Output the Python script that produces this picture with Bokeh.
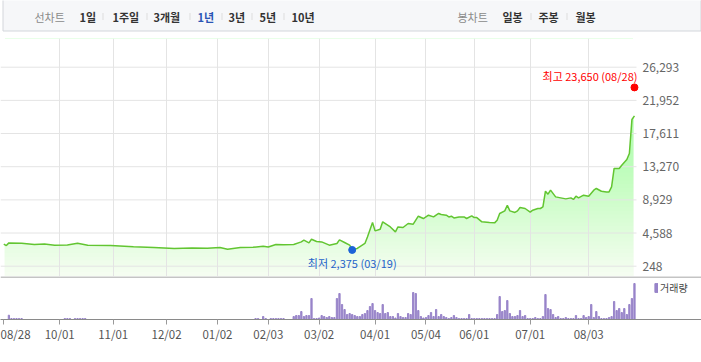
import numpy as np
from bokeh.plotting import figure
from bokeh.models import Range1d, FixedTicker, Span, Legend, LegendItem
from bokeh.layouts import column
from bokeh.embed import file_html
from bokeh.resources import INLINE
from bokeh.core.properties import value

FONT = "Noto Sans CJK KR"

# ---------------- data (trading-day index) ----------------
price_idx = [0, 1, 2, 7, 12, 16, 20, 25, 29, 33, 42, 51, 59, 67, 74, 80, 85, 88, 93, 98,
             102, 104, 107, 110, 114, 117, 118, 120, 121, 123, 125, 128, 131, 132, 134, 136,
             137, 139, 142, 143, 145, 146, 148, 149, 152, 154, 155, 157, 159, 161, 163, 165,
             167, 169, 171, 172, 174, 175, 176, 177, 179, 181, 182, 184, 185, 186, 188, 191,
             193, 194, 195, 197, 198, 199, 201, 202, 203, 205, 207, 208, 210, 211, 212, 213,
             214, 215, 217, 219, 221, 223, 224, 225, 226, 228, 230, 232, 233, 235, 237, 238,
             239, 240, 242, 243, 245, 246, 247, 248]
price_val = [3150, 2950, 3300, 3250, 3080, 3150, 3000, 3020, 3250, 3000, 2950, 2800, 2680, 2560,
             2620, 2600, 2700, 2480, 2680, 2720, 2870, 2750, 3090, 3040, 3090, 3430, 3650, 3300,
             3780, 3480, 3430, 3000, 3220, 3690, 3350, 3000, 2450, 2570, 3220, 4080, 5970, 4870,
             5090, 6050, 5390, 4740, 5390, 5310, 5840, 5750, 6790, 6490, 6920, 6700, 7150, 7010,
             6920, 6700, 6790, 6570, 6700, 6700, 6490, 6830, 6610, 6610, 6050, 5970, 5920, 6270,
             7150, 7490, 8230, 7490, 7280, 7490, 7930, 7800, 7320, 7580, 7800, 7800, 8010, 10060,
             9670, 10200, 9320, 9190, 9060, 9190, 8980, 9410, 9190, 9540, 9410, 10200, 10420,
             10060, 9970, 9970, 10630, 13040, 13040, 13470, 14210, 15000, 19450, 19920]

vol_idx = [2, 3, 4, 5, 6, 7, 24, 25, 26, 28, 29, 30, 31, 32,
           99, 100, 102, 103, 105, 106, 107, 108, 109, 110] + list(range(114, 249))
vol_val = [4.3, 1, 1, 1, 1, 1, 1, 1, 1, 1, 1, 1, 1, 1,
           1, 1, 3, 1, 1, 1, 1, 1, 1, 1,
           3, 4, 4, 8, 3, 4, 4, 21, 1, 1, 1.5, 4, 3, 2, 3, 2, 2, 21, 26, 15, 10, 5, 6, 5, 4, 3,
           3, 5, 6, 9, 13, 16, 9, 7, 6, 15, 6, 7, 3, 3, 1.5, 6, 3, 2, 2, 6, 5, 27, 26, 9, 3,
           1.5, 2, 4, 7, 3, 10, 3, 5, 3, 2, 1, 2, 4, 2, 1, 1, 1, 1, 5, 1, 1, 1, 1, 1, 1, 1,
           1, 1, 1, 5, 23, 8, 9, 19, 6, 3, 3, 4, 9, 3, 4, 1, 1, 1, 2, 1, 1, 3, 25, 11, 10, 5,
           2, 3, 1, 1, 2, 1, 1, 1, 4, 1, 1, 4, 2, 3, 15, 2, 8, 3, 1, 1, 1, 2, 3, 18, 9, 11, 7,
           11, 5, 15, 21, 36]

tick_idx = [0, 22, 43, 64, 84, 104, 124, 146, 166, 185, 207, 230]
tick_labels = ["08/28", "10/01", "11/01", "12/02", "01/02", "02/03", "03/02",
               "04/01", "05/04", "06/01", "07/01", "08/03"]
price_ticks = [248, 4588, 8929, 13270, 17611, 21952, 26293]

high_idx, high_val, high_label = 248, 23650, "최고 23,650 (08/28)"
low_idx, low_val, low_label = 137, 2375, "최저 2,375 (03/19)"

line_menu = ["1일", "1주일", "3개월", "1년", "3년", "5년", "10년"]
candle_menu = ["일봉", "주봉", "월봉"]
selected = "1년"
legend_label = "거래량"

# ---------------- layout constants ----------------
W = 701
PX_PER_DAY = 2.543
X0 = 3.3                      # pixel of day 0
PLOT_RIGHT = 636              # right edge of the price area (pixels)
LABEL_X = 642                 # left edge of price labels (pixels)
PRICE_H = 238
VOL_FRAME_H = 43
VOL_BOTTOM = 40
Y_BOTTOM, Y_TOP = -1100, 30049
GRID = "#e4e4e4"


def px_to_day(px):
    return (px - X0) / PX_PER_DAY


X_START, X_END = px_to_day(0), px_to_day(W)

# ---------------- toolbar ----------------
t = figure(width=W, height=38, x_range=Range1d(0, W), y_range=Range1d(38, 0),
           x_axis_location=None, y_axis_location=None, toolbar_location=None,
           output_backend="svg", min_border=0)
t.outline_line_color = None
t.grid.visible = False
t.quad(left=2.5, right=700.5, top=-3, bottom=30.5, fill_color="#f6f7f9", line_color="#d3d6db")

TY = 16
t.text(x=[34], y=[TY], text=["선차트"], text_font=value(FONT), text_font_size="11px",
       text_color="#8a8a8a", text_baseline="middle", text_align="left")
menu_x = [79, 112, 153, 197, 228, 259, 291]
t.text(x=menu_x, y=[TY] * len(menu_x), text=line_menu, text_font=value(FONT),
       text_font_size="11px", text_font_style="bold",
       text_color=["#2b56b5" if m == selected else "#333333" for m in line_menu],
       text_baseline="middle", text_align="left")
sep_x = [102.5, 146.5, 189.5, 221.5, 251.5, 283.5, 530.5, 566.5]
t.segment(x0=sep_x, x1=sep_x, y0=[12.5] * len(sep_x), y1=[19.5] * len(sep_x),
          line_color="#dddddd", line_width=1)
t.text(x=[457], y=[TY], text=["봉차트"], text_font=value(FONT), text_font_size="11px",
       text_color="#8a8a8a", text_baseline="middle", text_align="left")
t.text(x=[502, 538, 575], y=[TY] * 3, text=candle_menu, text_font=value(FONT),
       text_font_size="11px", text_font_style="bold", text_color="#333333",
       text_baseline="middle", text_align="left")

# ---------------- price chart ----------------
p = figure(width=W, height=PRICE_H, output_backend="svg", toolbar_location=None,
           x_range=Range1d(X_START, X_END), y_range=Range1d(Y_BOTTOM, Y_TOP),
           x_axis_location=None, y_axis_location=None, min_border=0)
p.outline_line_color = None
p.background_fill_color = "white"
p.ygrid.visible = False
p.xgrid.ticker = FixedTicker(ticks=tick_idx[1:])
p.xgrid.grid_line_color = GRID

# gradient fill under the line (stacked translucent bands, masked above the line)
levels = np.arange(-1000, 20000, 500)
inset = 0.3
p.quad(left=price_idx[0] + inset, right=price_idx[-1] - inset, bottom=Y_BOTTOM, top=Y_TOP,
       fill_color="#f7fdf3", line_color=None, level="image")
p.quad(left=price_idx[0] + inset, right=price_idx[-1] - inset, bottom=levels, top=Y_TOP,
       fill_color="#9be36b", fill_alpha=0.0169, line_color=None, level="image")
p.varea(x=price_idx, y1=price_val, y2=Y_TOP + 3000, fill_color="white", level="image")

# horizontal grid lines across the price area only, and their labels on the right
p.multi_line(xs=[[X_START, px_to_day(PLOT_RIGHT)] for _ in price_ticks],
             ys=[[tv, tv] for tv in price_ticks], line_color=GRID, line_width=1)
p.text(x=px_to_day(LABEL_X), y=price_ticks, text=[f"{tv:,}" for tv in price_ticks],
       text_font=value(FONT), text_font_size="12px", text_color="#666666",
       text_baseline="middle", text_align="left")

p.line(price_idx, price_val, line_color="#62c531", line_width=1.5)

p.scatter([high_idx], [high_val], size=7, color="#ff0000")
p.text(x=[high_idx], y=[high_val], text=[high_label], x_offset=3, y_offset=-11,
       text_align="right", text_baseline="middle", text_font=value(FONT),
       text_font_size="11px", text_color="#ff0000")
p.scatter([low_idx], [low_val], size=7, color="#1c63d8")
p.text(x=[low_idx], y=[low_val], text=[low_label], y_offset=13,
       text_align="center", text_baseline="middle", text_font=value(FONT),
       text_font_size="11px", text_color="#2563c9")

# ---------------- volume chart ----------------
v = figure(width=W, height=VOL_FRAME_H + VOL_BOTTOM, output_backend="svg", toolbar_location=None,
           x_range=Range1d(X_START, X_END), y_range=Range1d(0, VOL_FRAME_H),
           y_axis_location=None, min_border_left=0, min_border_right=0, min_border_top=0,
           min_border_bottom=VOL_BOTTOM)
v.outline_line_color = None
v.grid.visible = False
bars = v.vbar(x=vol_idx, top=vol_val, width=0.5, color="#9884c9")
v.add_layout(Span(location=VOL_FRAME_H - 0.5, dimension="width", line_color="#8a8a8a",
                  line_width=1))
v.xaxis.ticker = FixedTicker(ticks=tick_idx)
v.xaxis.major_label_overrides = {i: s for i, s in zip(tick_idx, tick_labels)}
v.xaxis.major_label_text_align = "left"
v.xaxis.major_label_text_font = FONT
v.xaxis.major_label_text_font_size = "11.5px"
v.xaxis.major_label_text_color = "#555555"
v.xaxis.major_label_standoff = 1
v.xaxis.axis_line_color = "#8a8a8a"
v.xaxis.major_tick_line_color = "#999999"
v.xaxis.major_tick_out = 5
v.xaxis.major_tick_in = 0
v.xaxis.minor_tick_line_color = None

leg = Legend(items=[LegendItem(label=legend_label, renderers=[bars])], location=(654, 24),
             background_fill_alpha=0, border_line_color=None, padding=0, margin=0,
             glyph_width=4, glyph_height=11, label_height=11, label_standoff=2, spacing=0,
             label_text_font=FONT, label_text_font_size="10px", label_text_color="#444444")
v.add_layout(leg)

# ---------------- bottom rule ----------------
d = figure(width=W, height=2, output_backend="svg", toolbar_location=None,
           x_range=Range1d(0, 1), y_range=Range1d(0, 1),
           x_axis_location=None, y_axis_location=None, min_border=0)
d.outline_line_color = None
d.grid.visible = False
d.background_fill_color = "#555555"
d.border_fill_color = "#555555"
d.quad(left=0, right=1, bottom=0, top=1, fill_color="#555555", line_color=None)

layout = column(t, p, v, d, spacing=0)
open("out.html", "w").write(file_html(layout, INLINE))
